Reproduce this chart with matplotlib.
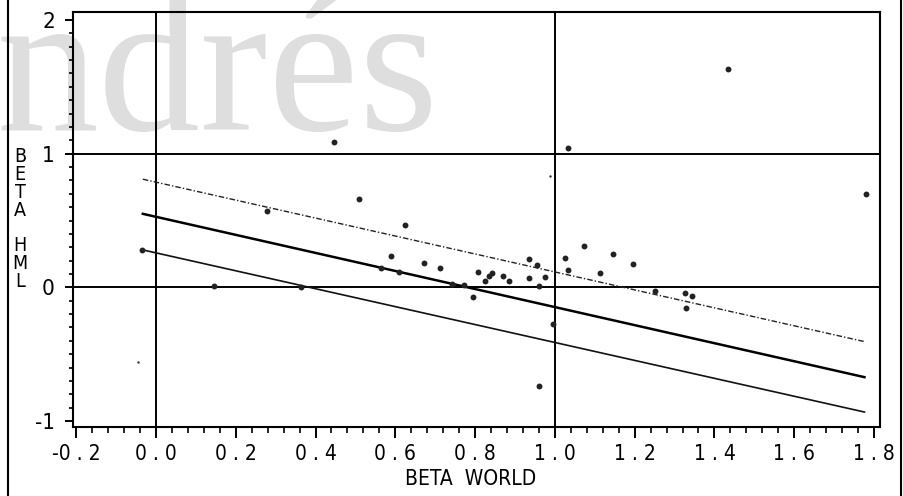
import numpy as np
import matplotlib
matplotlib.use("Agg")
import matplotlib.pyplot as plt
from matplotlib.lines import Line2D
from matplotlib.ticker import MultipleLocator

# estimated from the scanned chart
beta_world = [0.446, 0.508, 0.278, 0.624, 1.434, 1.032, 1.781, -0.035, 0.145, 0.363,
              0.590, 0.564, 0.610, 0.672, 0.711, 0.741, 0.772, 0.794, 0.808, 0.825,
              0.834, 0.843, 0.870, 0.885, 0.934, 0.955, 0.936, 0.975, 0.959, 0.995,
              1.026, 1.032, 1.074, 1.113, 1.145, 1.197, 1.250, 1.325, 1.344, 1.329,
              0.959]
beta_hml = [1.09, 0.66, 0.57, 0.467, 1.63, 1.04, 0.70, 0.28, 0.008, 0.0,
            0.236, 0.146, 0.113, 0.184, 0.143, 0.022, 0.02, -0.072, 0.117, 0.05,
            0.087, 0.11, 0.084, 0.049, 0.213, 0.169, 0.072, 0.079, 0.012, -0.276,
            0.222, 0.128, 0.307, 0.107, 0.249, 0.173, -0.027, -0.04, -0.068, -0.156,
            -0.74]
# two very faint specks
faint_world = [-0.044, 0.988]
faint_hml = [-0.56, 0.83]

# fitted lines (end points)
fit_x = [-0.033, 1.776]
upper_y = [0.809, -0.406]
middle_y = [0.55, -0.672]
lower_y = [0.28, -0.933]

xticks = [-0.2, 0.0, 0.2, 0.4, 0.6, 0.8, 1.0, 1.2, 1.4, 1.6, 1.8]
xtick_labels = ["-0 . 2", "0 . 0", "0 . 2", "0 . 4", "0 . 6", "0 . 8",
                "1 . 0", "1 . 2", "1 . 4", "1 . 6", "1 . 8"]
yticks = [-1, 0, 1, 2]
ytick_labels = ["-1", "0", "1", "2"]

fig = plt.figure(figsize=(9.04, 4.96), dpi=100)
ax = fig.add_axes([73 / 904, 69 / 496, 807 / 904, 415 / 496])
ax.set_facecolor("none")

# watermark
ax.text(-0.004, 0.738, "ndrés", transform=fig.transFigure, fontsize=147,
        family=["Liberation Serif", "DejaVu Serif"], color="#dedede",
        ha="left", va="baseline", zorder=0, clip_on=False)

# reference lines
for v in [0.0, 1.0]:
    ax.axvline(v, color="black", lw=1.4, zorder=2)
for h in [0.0, 1.0]:
    ax.axhline(h, color="black", lw=1.4, zorder=2)

ax.plot(fit_x, upper_y, color="#222222", lw=1.0, ls=(0, (4, 1.5, 1, 1.5)), zorder=3)
ax.plot(fit_x, middle_y, color="black", lw=1.8, zorder=3)
ax.plot(fit_x, lower_y, color="#111111", lw=1.2, zorder=3)

ax.scatter(beta_world, beta_hml, s=18, color="#222222", zorder=4, linewidths=0)
ax.scatter(faint_world, faint_hml, s=3, color="#333333", zorder=4, linewidths=0)

ax.set_xlim(-0.208, 1.815)
ax.set_ylim(-1.045, 2.06)

for sp in ax.spines.values():
    sp.set_linewidth(1.5)

ax.set_xticks(xticks)
ax.set_xticklabels(xtick_labels)
ax.xaxis.set_minor_locator(MultipleLocator(0.04))
ax.set_yticks(yticks)
ax.set_yticklabels(ytick_labels)
ax.yaxis.set_minor_locator(MultipleLocator(0.1))
ax.tick_params(axis="x", which="major", direction="out", length=8, width=1.4,
               labelsize=15, pad=4)
ax.tick_params(axis="x", which="minor", direction="out", length=4, width=1.2)
ax.tick_params(axis="y", which="major", direction="out", length=6, width=1.4,
               labelsize=16, pad=7)
ax.tick_params(axis="y", which="minor", direction="out", length=3, width=1.2)

for lab in ax.get_xticklabels() + ax.get_yticklabels():
    lab.set_fontstretch("condensed")

fig.text(471 / 904, 0.034, "BETA  WORLD", ha="center", va="center", fontsize=15,
         fontstretch="condensed")
fig.text(20 / 904, 0.558, "B\nE\nT\nA\n\nH\nM\nL", ha="center", va="center",
         fontsize=14, linespacing=0.92, fontstretch="condensed")

# page border lines of the scan
fig.add_artist(Line2D([8 / 904, 8 / 904], [0, 1], color="black", lw=1.5))
fig.add_artist(Line2D([901 / 904, 901 / 904], [0, 1], color="black", lw=1.5))

fig.savefig("out.png", dpi=100)
